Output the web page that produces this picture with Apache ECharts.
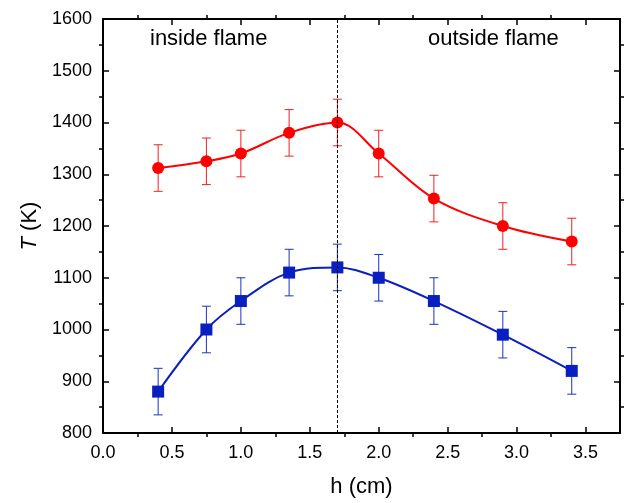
<!DOCTYPE html>
<html>
<head>
<meta charset="utf-8">
<script src="https://cdn.jsdelivr.net/npm/echarts@6/dist/echarts.min.js"></script>
<style>
  html, body { margin: 0; padding: 0; background: #fff; }
  #chart { width: 627px; height: 503px; }
</style>
</head>
<body>
<div id="chart"></div>
<script>
// Flame temperature vs. height
const heights = [0.4, 0.75, 1.0, 1.35, 1.7, 2.0, 2.4, 2.9, 3.4];
const tempRed = [1312, 1325, 1340, 1380, 1400, 1340, 1253, 1200, 1170];
const tempBlue = [880, 1000, 1055, 1110, 1120, 1100, 1055, 990, 920];
const errRed = [45, 45, 45, 45, 45, 45, 45, 45, 45];
const errBlue = [45, 45, 45, 45, 45, 45, 45, 45, 45];
const boundaryH = 1.7;
const xTicks = ['0.0', '0.5', '1.0', '1.5', '2.0', '2.5', '3.0', '3.5'];
const yTicks = ['800', '900', '1000', '1100', '1200', '1300', '1400', '1500', '1600'];

const FONT = 'Liberation Sans, Arial, sans-serif';

function pairs(xs, ys) { return xs.map((x, i) => [x, ys[i]]); }
function errData(xs, ys, es) { return xs.map((x, i) => [x, ys[i] - es[i], ys[i] + es[i]]); }

function errorBars(color) {
  return function (params, api) {
    const x = api.value(0);
    const lo = api.coord([x, api.value(1)]);
    const hi = api.coord([x, api.value(2)]);
    const hw = 4.5;
    const style = { stroke: color, lineWidth: 1 };
    return {
      type: 'group',
      children: [
        { type: 'line', shape: { x1: lo[0], y1: lo[1], x2: hi[0], y2: hi[1] }, style },
        { type: 'line', shape: { x1: lo[0] - hw, y1: lo[1], x2: lo[0] + hw, y2: lo[1] }, style },
        { type: 'line', shape: { x1: hi[0] - hw, y1: hi[1], x2: hi[0] + hw, y2: hi[1] }, style }
      ]
    };
  };
}

const axisLine = { show: true, onZero: false, lineStyle: { color: '#000', width: 2 } };
const tickIn = { show: true, inside: true, length: 6, lineStyle: { color: '#000', width: 1.5 } };
const minorIn = { show: true, splitNumber: 2, length: -4, lineStyle: { color: '#000', width: 1.5 } };

const chart = echarts.init(document.getElementById('chart'));
chart.setOption({
  animation: false,
  backgroundColor: '#fff',
  grid: { left: 103, top: 19, right: 7, bottom: 69 },
  xAxis: [
    {
      type: 'value', min: 0, max: 3.75, interval: 0.5, position: 'bottom',
      axisLine, axisTick: tickIn, minorTick: minorIn, splitLine: { show: false },
      axisLabel: {
        color: '#000', fontFamily: FONT, fontSize: 18, margin: 11,
        formatter: v => xTicks[Math.round(v / 0.5)] || ''
      },
      name: 'h (cm)', nameLocation: 'middle', nameGap: 43,
      nameTextStyle: { color: '#000', fontFamily: FONT, fontSize: 22 }
    },
    {
      type: 'value', min: 0, max: 3.75, interval: 0.5, position: 'top',
      axisLine, axisTick: tickIn, minorTick: minorIn, splitLine: { show: false },
      axisLabel: { show: false }
    }
  ],
  yAxis: [
    {
      type: 'value', min: 800, max: 1600, interval: 100, position: 'left',
      axisLine, axisTick: tickIn, minorTick: minorIn, splitLine: { show: false },
      axisLabel: {
        color: '#000', fontFamily: FONT, fontSize: 18, margin: 11,
        formatter: v => yTicks[Math.round((v - 800) / 100)] || ''
      },
      name: '{i|T} (K)', nameLocation: 'middle', nameGap: 60, nameRotate: 90,
      nameTextStyle: {
        color: '#000', fontFamily: FONT, fontSize: 22,
        rich: { i: { fontStyle: 'italic', fontFamily: FONT, fontSize: 22, color: '#000' } }
      }
    },
    {
      type: 'value', min: 800, max: 1600, interval: 100, position: 'right',
      axisLine, axisTick: tickIn, minorTick: minorIn, splitLine: { show: false },
      axisLabel: { show: false }
    }
  ],
  graphic: [
    { type: 'text', left: 150, top: 28, style: { text: 'inside flame', font: '22px ' + FONT, fill: '#000' } },
    { type: 'text', left: 428, top: 28, style: { text: 'outside flame', font: '22px ' + FONT, fill: '#000' } }
  ],
  series: [
    {
      type: 'line', name: 'boundary', data: [], silent: true,
      markLine: {
        symbol: 'none', silent: true, label: { show: false },
        lineStyle: { color: '#000', type: [3, 2], width: 1 },
        data: [{ xAxis: boundaryH }]
      }
    },
    {
      type: 'custom', name: 'errRed', renderItem: errorBars('#f02020'),
      data: errData(heights, tempRed, errRed), z: 3
    },
    {
      type: 'custom', name: 'errBlue', renderItem: errorBars('#1a32c8'),
      data: errData(heights, tempBlue, errBlue), z: 3
    },
    {
      type: 'line', name: 'red', data: pairs(heights, tempRed), smooth: 0.35,
      symbol: 'circle', symbolSize: 12,
      lineStyle: { color: '#ff0000', width: 2 }, itemStyle: { color: '#ff0000' }, z: 4
    },
    {
      type: 'line', name: 'blue', data: pairs(heights, tempBlue), smooth: 0.35,
      symbol: 'rect', symbolSize: 12,
      lineStyle: { color: '#0a1fbf', width: 2 }, itemStyle: { color: '#0a1fbf' }, z: 4
    }
  ]
});
</script>
</body>
</html>
